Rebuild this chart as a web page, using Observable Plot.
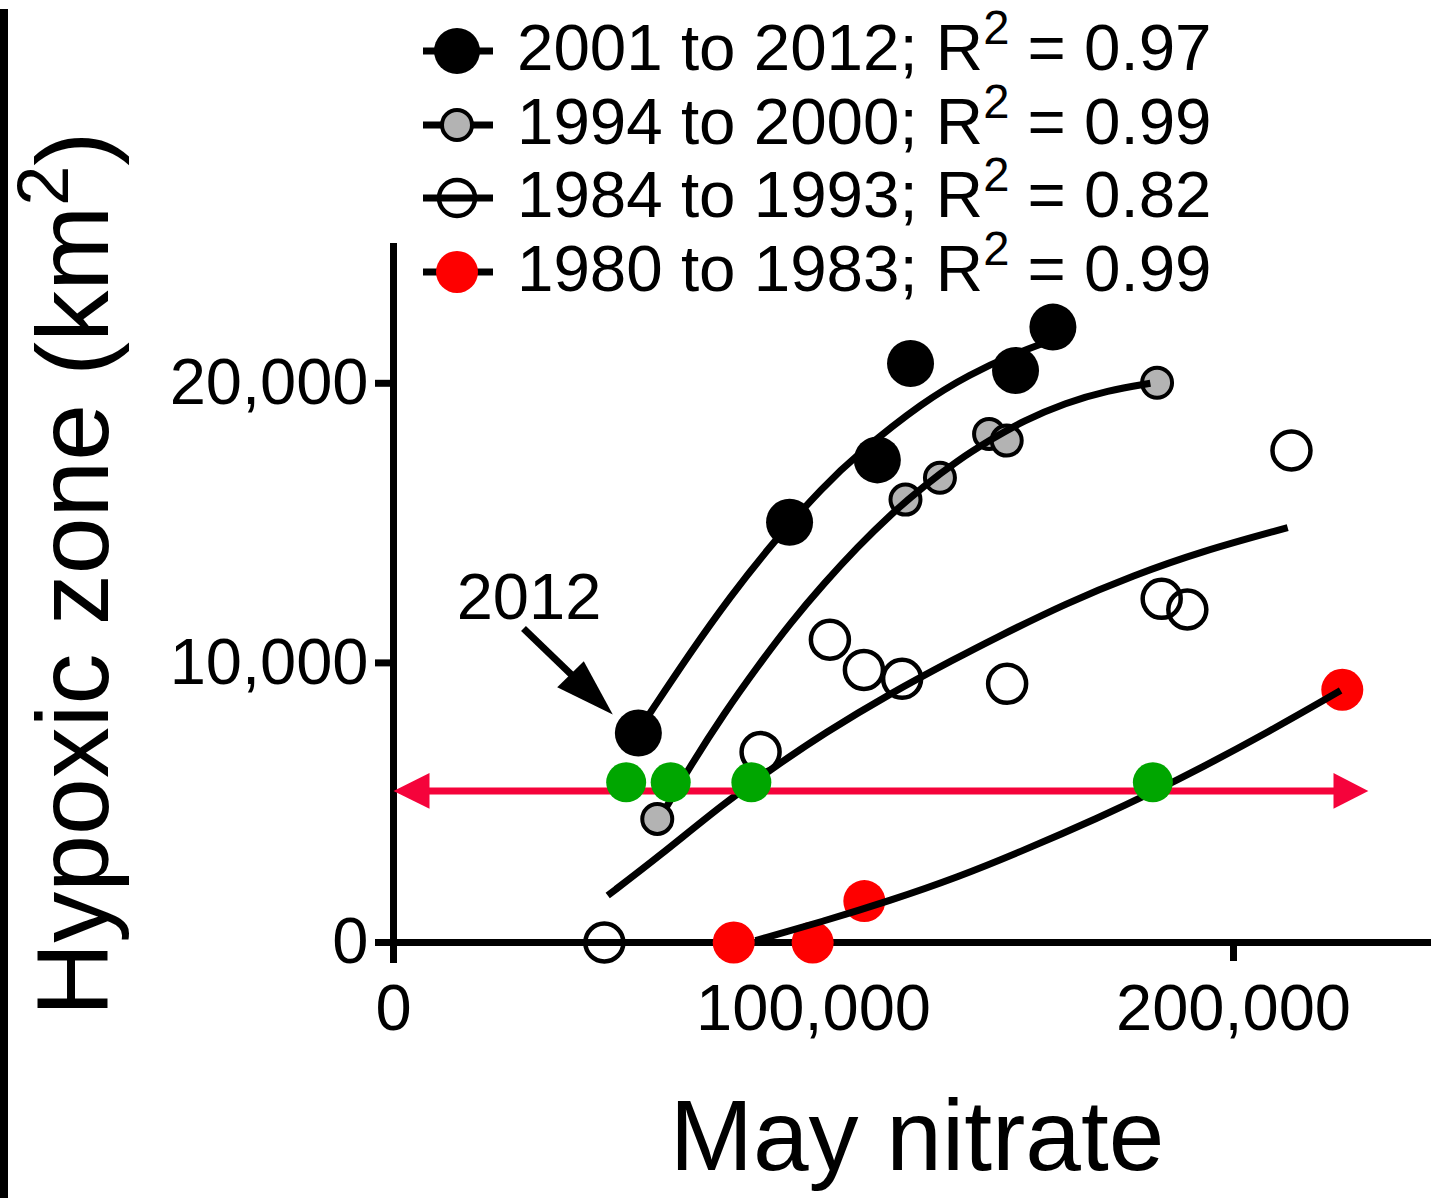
<!DOCTYPE html>
<html><head><meta charset="utf-8">
<script src="https://cdn.jsdelivr.net/npm/d3@7"></script>
<script src="https://cdn.jsdelivr.net/npm/@observablehq/plot@0.6"></script>
<style>
html,body{margin:0;padding:0;background:#fff;overflow:hidden;}
#wrap{position:relative;width:1431px;height:1198px;font-family:"Liberation Sans",Arial,Helvetica,sans-serif;}
#chart{position:absolute;left:0;top:0;}
#leftbar{position:absolute;left:0;top:9px;width:8px;height:1189px;background:#000;}
#legend{position:absolute;left:418px;top:14px;}
.row{display:flex;align-items:center;height:73.7px;}
.row svg{display:block;flex:none;}
.lab{font-size:65.5px;line-height:74px;margin-left:19px;white-space:nowrap;color:#000;}
.sup{font-size:0.72em;position:relative;top:-0.55em;}
</style></head><body>
<div id="wrap"><div id="chart"></div><div id="leftbar"></div><div id="legend"></div></div>
<script>
// ---- tick values ----
const xTicks = [0, 100000, 200000];
const yTicks = [0, 10000, 20000];

// ---- observed points (May nitrate, hypoxic zone km2) ----
const blackX = [58300, 94300, 115200, 123100, 148100, 157000];
const blackY = [7490, 15030, 17260, 20710, 20460, 22010];
const grayX  = [62800, 121900, 130100, 141800, 146000, 181800];
const grayY  = [4420, 15840, 16620, 18190, 17950, 20020];
const openX  = [50200, 87400, 103900, 112000, 121100, 146100, 182900, 189000, 213800];
const openY  = [0, 6810, 10830, 9750, 9430, 9250, 12290, 11910, 17600];
const redX   = [81000, 99800, 112100, 225900];
const redY   = [0, 0, 1480, 9040];

// ---- fitted curves ----
const blackFitX = [60700, 70700, 80200, 90200, 102400, 110500, 126200, 137400, 146900, 155900];
const blackFitY = [8120, 10380, 12380, 14280, 16320, 17470, 19350, 20330, 21000, 21500];
const grayFitX  = [64800, 70700, 78600, 86700, 94500, 102400, 110500, 118300, 126200, 134300, 142100, 150000, 160000, 170000, 180200];
const grayFitY  = [4800, 6320, 8170, 9880, 11430, 12830, 14150, 15300, 16320, 17240, 17980, 18660, 19300, 19740, 20000];
const openFitX  = [51000, 62900, 78600, 90500, 102400, 118300, 134300, 142100, 160500, 176200, 192100, 212900];
const openFitY  = [1680, 3040, 4970, 6260, 7470, 8910, 10190, 10800, 12160, 13130, 13980, 14840];
const redFitX   = [86200, 102400, 118300, 134300, 150000, 168300, 180700, 192100, 208100, 225500];
const redFitY   = [70, 760, 1500, 2330, 3290, 4490, 5370, 6230, 7510, 9010];

// ---- threshold arrow and its crossings ----
const goalY = 5420;
const goalLineX = [7000, 225000];
const goalHeadX = [0, 8570, 8570, 232100, 223800, 223800];
const goalHeadY = [5420, 6060, 4780, 5420, 6060, 4780];
const goalHeadId = ["L", "L", "L", "R", "R", "R"];
const crossX = [55400, 66000, 85200, 180800];
const crossY = [5730, 5730, 5730, 5730];

// ---- "2012" annotation ----
const annotText = ["2012"];
const annotX = [32260];
const annotY = [12320];
const annotShaftX = [30950, 42500];
const annotShaftY = [11230, 9560];
const annotHeadX = [52210, 38980, 45310];
const annotHeadY = [8155, 9131, 10060];

// ---- legend ----
const legendLabels = ["2001 to 2012", "1994 to 2000", "1984 to 1993", "1980 to 1983"];
const legendR2 = ["0.97", "0.99", "0.82", "0.99"];

const zip = (xs, ys) => xs.map((x, i) => ({x, y: ys[i]}));
const black = zip(blackX, blackY), gray = zip(grayX, grayY), open = zip(openX, openY), red = zip(redX, redY);
const blackFit = zip(blackFitX, blackFitY), grayFit = zip(grayFitX, grayFitY), openFit = zip(openFitX, openFitY), redFit = zip(redFitX, redFitY);
const goalHeads = goalHeadX.map((x, i) => ({x, y: goalHeadY[i], id: goalHeadId[i]}));
const crosses = zip(crossX, crossY);
const annot = annotText.map((t, i) => ({text: t, x: annotX[i], y: annotY[i]}));
const shaft = zip(annotShaftX, annotShaftY);
const head = zip(annotHeadX, annotHeadY);

const ARROW_RED = "#f5033b";
const fmt = d3.format(",");
const lineOpts = {x: "x", y: "y", curve: "basis", stroke: "black", strokeWidth: 7, strokeLinecap: "butt"};

const plot = Plot.plot({
  width: 1431, height: 1198,
  marginLeft: 393, marginRight: 0, marginTop: 243, marginBottom: 256,
  style: {fontFamily: '"Liberation Sans", Arial, sans-serif', background: "transparent", color: "black"},
  x: {domain: [0, 247140]},
  y: {domain: [0, 25000]},
  marks: [
    Plot.ruleY([0], {x1: 0, x2: 247140, stroke: "black", strokeWidth: 7}),
    Plot.ruleX([0], {y1: -750, y2: 25000, stroke: "black", strokeWidth: 7}),
    Plot.axisY({ticks: yTicks, tickFormat: fmt, tickSize: 18, tickPadding: 7, fontSize: 65, strokeWidth: 7, label: null}),
    Plot.axisX({ticks: xTicks, tickFormat: fmt, tickSize: 19, tickPadding: 22, fontSize: 65, strokeWidth: 7, label: null}),
    Plot.dot(open, {x: "x", y: "y", r: 19, fill: "none", stroke: "black", strokeWidth: 4.5}),
    Plot.dot(gray, {x: "x", y: "y", r: 15, fill: "#b3b3b3", stroke: "black", strokeWidth: 4}),
    Plot.dot(black, {x: "x", y: "y", r: 23.5, fill: "black"}),
    Plot.dot(red, {x: "x", y: "y", r: 21, fill: "#fe0000"}),
    Plot.line(openFit, lineOpts),
    Plot.line(grayFit, lineOpts),
    Plot.line(blackFit, lineOpts),
    Plot.line(redFit, lineOpts),
    Plot.ruleY([goalY], {x1: goalLineX[0], x2: goalLineX[1], stroke: ARROW_RED, strokeWidth: 7}),
    Plot.line(goalHeads, {x: "x", y: "y", z: "id", fill: ARROW_RED, stroke: "none"}),
    Plot.dot(crosses, {x: "x", y: "y", r: 20, fill: "#00a600"}),
    Plot.line(shaft, {x: "x", y: "y", stroke: "black", strokeWidth: 7, strokeLinecap: "butt"}),
    Plot.line(head, {x: "x", y: "y", fill: "black", stroke: "none"}),
    Plot.text(annot, {x: "x", y: "y", text: "text", fontSize: 65, fill: "black"})
  ]
});

const svg = d3.select(plot);
const yl = svg.append("text")
  .attr("transform", "translate(108,574) rotate(-90)")
  .attr("text-anchor", "middle").attr("font-size", 102).attr("fill", "black")
  .attr("font-family", '"Liberation Sans", Arial, sans-serif');
yl.append("tspan").text("Hypoxic zone (km");
yl.append("tspan").attr("font-size", 72).attr("dy", -40).text("2");
yl.append("tspan").attr("dy", 40).text(")");
svg.append("text")
  .attr("x", 917).attr("y", 1170)
  .attr("text-anchor", "middle").attr("font-size", 100).attr("fill", "black")
  .attr("font-family", '"Liberation Sans", Arial, sans-serif')
  .text("May nitrate");

document.getElementById("chart").appendChild(plot);

// legend
const legendStyles = [
  {fill: "black", stroke: "none", sw: 0, r: 23},
  {fill: "#b3b3b3", stroke: "black", sw: 4, r: 15},
  {fill: "none", stroke: "black", sw: 4.5, r: 18},
  {fill: "#fe0000", stroke: "none", sw: 0, r: 21}
];
const leg = d3.select("#legend");
legendLabels.forEach((lab, i) => {
  const st = legendStyles[i];
  const row = leg.append("div").attr("class", "row");
  const s = row.append("svg").attr("width", 80).attr("height", 74);
  s.append("line").attr("x1", 5).attr("x2", 75).attr("y1", 37).attr("y2", 37)
    .attr("stroke", "black").attr("stroke-width", 7);
  s.append("circle").attr("cx", 39).attr("cy", 37).attr("r", st.r)
    .attr("fill", st.fill).attr("stroke", st.stroke).attr("stroke-width", st.sw);
  const t = row.append("div").attr("class", "lab");
  t.append("span").text(lab + "; R");
  t.append("span").attr("class", "sup").text("2");
  t.append("span").text(" = " + legendR2[i]);
});
</script></body></html>
